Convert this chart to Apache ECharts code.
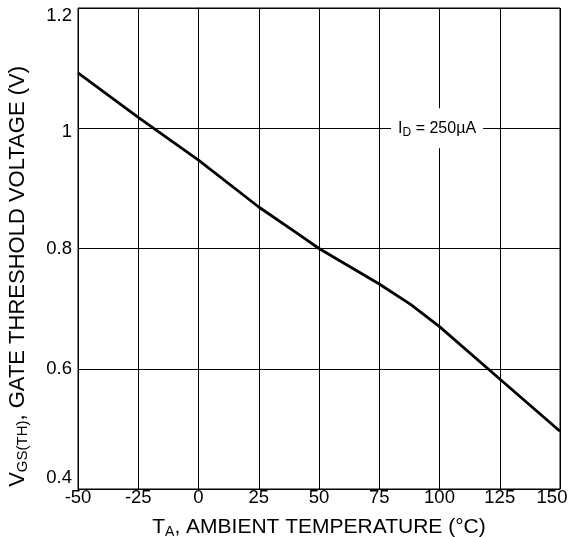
<!DOCTYPE html>
<html>
<head>
<meta charset="utf-8">
<script src="https://cdn.jsdelivr.net/npm/echarts@6/dist/echarts.min.js"></script>
<style>
html,body{margin:0;padding:0;background:#fff;}
#chart{width:571px;height:537px;}
</style>
</head>
<body>
<div id="chart"></div>
<script>
// Data
var temperature = [-50, -25, 0, 25, 41, 50, 75, 88, 100, 125, 150];
var thresholdVoltage = [1.092, 1.018, 0.947, 0.869, 0.825, 0.800, 0.741, 0.707, 0.670, 0.583, 0.496];
var xTicks = [-50, -25, 0, 25, 50, 75, 100, 125, 150];
var yTicks = [0.4, 0.6, 0.8, 1, 1.2];

var seriesData = temperature.map(function (t, i) { return [t, thresholdVoltage[i]]; });

var FONT = 'Liberation Sans, Arial, sans-serif';
var chart = echarts.init(document.getElementById('chart'), null, {renderer: 'canvas'});
chart.setOption({
  animation: false,
  backgroundColor: '#fff',
  grid: {left: 78, right: 11, top: 8, bottom: 48, containLabel: false, outerBoundsMode: 'none',
    show: true, borderColor: '#000', borderWidth: 1},
  xAxis: {
    type: 'value', min: -50, max: 150, interval: 25,
    axisLine: {show: true, lineStyle: {color: '#000'}},
    axisTick: {show: false},
    splitLine: {show: true, lineStyle: {color: '#000', width: 1}},
    axisLabel: {color: '#000', fontSize: 18.5, fontFamily: FONT, margin: -1,
      formatter: function (v) {
        if (xTicks.indexOf(v) < 0) return '';
        if (v === xTicks[xTicks.length - 1]) return '{last|' + v + '}';
        return String(v);
      },
      rich: {last: {fontSize: 18.5, fontFamily: FONT, color: '#000', padding: [0, 16, 0, 0]}}},
    name: 'T{sub|A}, AMBIENT TEMPERATURE (°C)',
    nameLocation: 'middle', nameGap: 26,
    nameTextStyle: {color: '#000', fontSize: 21, fontFamily: FONT,
      rich: {sub: {fontSize: 14, fontFamily: FONT, color: '#000', padding: [10, 0, 0, 0]}}}
  },
  yAxis: {
    type: 'value', min: 0.4, max: 1.2, interval: 0.2,
    axisLine: {show: true, lineStyle: {color: '#000'}},
    axisTick: {show: false},
    splitLine: {show: true, lineStyle: {color: '#000', width: 1}},
    axisLabel: {color: '#000', fontSize: 18.5, fontFamily: FONT, margin: 6,
      formatter: function (v) {
        var r = Math.round(v * 10) / 10;
        if (yTicks.indexOf(r) < 0) return '';
        if (r === 1.2) return '{top|1.2}';
        if (r === 1) return '{one|1}';
        if (r === 0.4) return '{bot|0.4}';
        return String(r);
      },
      rich: {
        top: {fontSize: 18.5, fontFamily: FONT, color: '#000', padding: [16, 0, 0, 0]},
        one: {fontSize: 18.5, fontFamily: FONT, color: '#000', padding: [7, 0, 0, 0]},
        bot: {fontSize: 18.5, fontFamily: FONT, color: '#000', padding: [0, 0, 22, 0]}
      }}
  },
  graphic: [
    {
      type: 'text', left: 7, top: 66, z: 100,
      rotation: Math.PI / 2,
      style: {
        text: 'V{sub|GS(TH)}, GATE THRESHOLD VOLTAGE (V)',
        fontSize: 22, fontFamily: FONT, fill: '#000',
        rich: {sub: {fontSize: 15, fontFamily: FONT, fill: '#000', padding: [10, 0, 0, 0]}}
      }
    }
  ],
  series: [
    {
      type: 'line', data: seriesData, showSymbol: false, smooth: false,
      lineStyle: {color: '#000', width: 2.8}, z: 5,
      markPoint: {
        symbol: 'rect', symbolSize: [92, 40],
        itemStyle: {color: '#fff'},
        label: {show: true, color: '#000', fontSize: 16, fontFamily: FONT,
          formatter: 'I{sub|D} = 250µA',
          rich: {sub: {fontSize: 12, fontFamily: FONT, color: '#000', padding: [8, 0, 0, 0]}}},
        data: [{coord: [99, 1.0]}]
      }
    }
  ]
});
</script>
</body>
</html>
